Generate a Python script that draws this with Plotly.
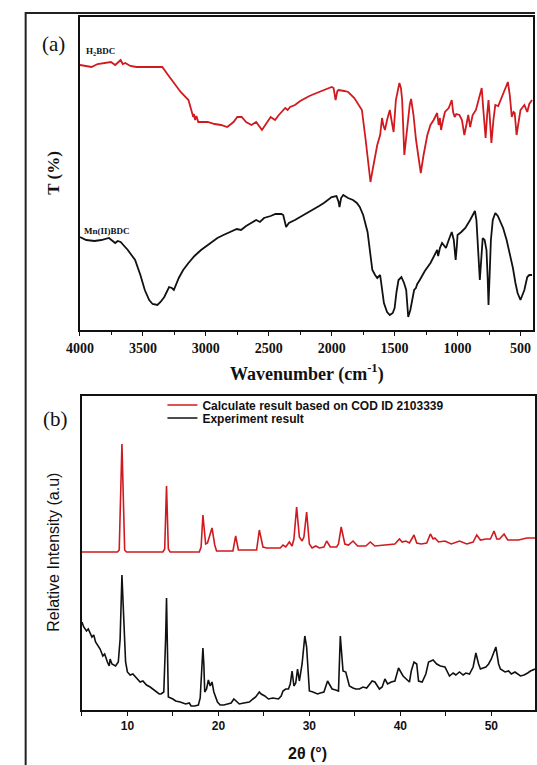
import plotly.graph_objects as go

# page body margin is removed (see post_script) so the figure fills the 537x765 window exactly
OFF = 0
W, H = 537, 765

# ---------------- (a) FTIR data (wavenumber cm-1, transmittance a.u.) ----------------
h2bdc_wn = [4000, 3950, 3908, 3860, 3800, 3754, 3720, 3690, 3677, 3660, 3640, 3600, 3550, 3500, 3400, 3346,
            3300, 3250, 3200, 3138, 3115, 3100, 3095, 3085, 3075, 3060, 2985, 2930, 2880, 2830, 2780, 2750,
            2715, 2680, 2638, 2600, 2554, 2520, 2485, 2450, 2420, 2369, 2350, 2330, 2292, 2250, 2177, 2120,
            2062, 2030, 2000, 1985, 1969, 1955, 1946, 1900, 1869, 1820, 1777, 1760, 1730, 1710, 1692, 1675,
            1650, 1638, 1615, 1600, 1590, 1577, 1560, 1538, 1525, 1508, 1490, 1477, 1462, 1450, 1440, 1423,
            1410, 1395, 1380, 1369, 1350, 1330, 1310, 1292, 1270, 1240, 1215, 1190, 1162, 1150, 1140, 1131,
            1115, 1100, 1070, 1046, 1035, 1023, 1010, 985, 965, 946, 930, 915, 900, 880, 854, 830, 808, 795,
            777, 765, 754, 745, 731, 715, 700, 677, 650, 620, 600, 585, 569, 555, 546, 531, 515, 500, 469,
            446, 430, 408]
h2bdc_t = [265, 264, 263, 266, 267, 268, 265, 269, 270, 266, 267, 264, 263, 263, 263, 263,
           255, 247, 238, 230, 220, 213, 216, 210, 214, 208, 208, 206, 205, 203, 208, 213,
           213, 208, 205, 208, 200, 206, 213, 210, 215, 222, 220, 223, 225, 229, 234, 237,
           240, 241, 243, 242, 230, 239, 240, 239, 238, 232, 223, 220, 190, 165, 148, 160,
           178, 185, 195, 212, 205, 200, 210, 220, 210, 198, 230, 238, 247, 242, 230, 175,
           190, 210, 225, 231, 215, 190, 170, 157, 175, 195, 205, 210, 217, 205, 212, 200,
           210, 218, 222, 230, 218, 213, 216, 215, 210, 195, 205, 215, 203, 215, 220, 232, 242, 220,
           192, 215, 230, 215, 187, 210, 225, 224, 233, 242, 248, 235, 213, 218, 217, 195, 210, 220, 225,
           218, 226, 230]

mnbdc_wn = [4000, 3950, 3885, 3830, 3770, 3740, 3720, 3700, 3677, 3620, 3562, 3520, 3485, 3450, 3423, 3385,
            3360, 3330, 3292, 3270, 3254, 3215, 3180, 3138, 3090, 3038, 2980, 2908, 2860, 2800, 2754, 2720,
            2680, 2640, 2600, 2570, 2538, 2485, 2446, 2400, 2385, 2362, 2340, 2292, 2250, 2215, 2150, 2100,
            2062, 2000, 1962, 1945, 1938, 1925, 1908, 1870, 1831, 1800, 1777, 1750, 1715, 1690, 1677, 1655,
            1638, 1615, 1600, 1585, 1560, 1538, 1515, 1500, 1485, 1469, 1446, 1425, 1408, 1400, 1392, 1375,
            1360, 1345, 1331, 1320, 1300, 1260, 1215, 1185, 1162, 1154, 1140, 1123, 1105, 1092, 1070, 1046,
            1030, 1015, 1005, 1000, 970, 938, 900, 869, 862, 850, 835, 823, 812, 800, 785, 770, 760, 754,
            745, 735, 720, 700, 680, 660, 638, 610, 585, 560, 540, 523, 500, 485, 469, 455, 446, 430, 408]
mnbdc_t = [93, 90, 89, 90, 92, 89, 87, 89, 88, 80, 70, 55, 40, 30, 26, 25,
           28, 33, 43, 42, 40, 52, 60, 67, 74, 80, 85, 92, 95, 98, 101, 100,
           104, 107, 110, 108, 112, 114, 116, 116, 115, 103, 107, 110, 113, 115, 120, 124,
           127, 133, 134, 128, 123, 132, 135, 132, 130, 127, 123, 115, 98, 75, 60, 55,
           52, 55, 40, 27, 18, 15, 17, 22, 38, 50, 53, 47, 40, 20, 13, 20,
           32, 40, 42, 46, 50, 59, 67, 74, 80, 74, 82, 87, 84, 82, 90, 98,
           90, 70, 85, 95, 98, 102, 110, 117, 119, 110, 80, 50, 70, 92, 90, 80, 50, 25,
           55, 90, 110, 117, 114, 108, 102, 90, 77, 62, 47, 37, 30, 35, 40, 48, 53, 55, 55]

# ---------------- (b) XRD data (2theta deg, intensity a.u.) ----------------
calc_tt = [5.0, 8.9, 9.1, 9.4, 9.7, 9.9, 13.9, 14.1, 14.3, 14.5, 14.7, 17.9, 18.1, 18.3, 18.6, 18.8,
           19.0, 19.3, 19.6, 19.8, 21.6, 21.9, 22.2, 24.2, 24.5, 24.9, 25.3, 26.8, 27.1, 27.4, 27.8, 28.1,
           28.3, 28.6, 28.9, 29.2, 29.4, 29.7, 30.0, 30.3, 30.7, 31.1, 31.6, 31.9, 32.3, 33.0, 33.2, 33.5,
           33.9, 34.3, 34.8, 35.3, 36.2, 36.7, 37.2, 38.8, 39.4, 39.9, 40.2, 40.6, 41.0, 41.5, 41.8, 42.3,
           42.9, 43.3, 43.6, 43.8, 44.2, 44.9, 45.6, 46.5, 47.3, 48.0, 48.4, 48.8, 49.4, 49.9, 50.3, 50.6,
           50.9, 51.4, 51.8, 52.1, 53.0, 53.9, 54.8]
calc_int = [158, 158, 160, 266, 160, 158, 158, 161, 224, 161, 158, 158, 163, 195, 166, 167,
            173, 182, 165, 159, 159, 174, 160, 160, 180, 163, 162, 162, 165, 163, 168, 164,
            171, 203, 173, 169, 173, 198, 166, 162, 164, 162, 163, 169, 163, 163, 166, 183,
            166, 165, 169, 164, 164, 168, 164, 165, 166, 171, 168, 169, 167, 175, 167, 166,
            167, 176, 171, 172, 168, 169, 166, 169, 166, 168, 175, 170, 171, 171, 179, 171,
            171, 176, 170, 170, 170, 172, 172]

exp_tt = [5.0, 5.2, 5.5, 5.7, 6.1, 6.3, 6.5, 6.8, 7.0, 7.3, 7.5, 7.8, 8.0, 8.1, 8.3, 8.7, 9.0, 9.2, 9.4,
          9.6, 9.8, 10.0, 10.3, 10.6, 11.1, 11.4, 11.7, 12.1, 12.5, 12.8, 13.2, 13.5, 13.7, 14.0, 14.2,
          14.3, 14.4, 14.5, 15.0, 15.3, 15.8, 16.4, 16.8, 17.0, 17.4, 17.8, 18.0, 18.2, 18.3, 18.4, 18.5,
          18.7, 18.9, 19.1, 19.3, 19.5, 19.9, 20.2, 20.6, 21.0, 21.4, 21.7, 22.0, 22.3, 22.8, 23.4, 23.8,
          24.1, 24.5, 24.7, 25.1, 25.5, 26.0, 26.6, 26.9, 27.1, 27.4, 27.7, 27.9, 28.1, 28.3, 28.5, 28.7,
          28.9, 29.2, 29.5, 29.7, 29.9, 30.0, 30.4, 30.9, 31.2, 31.6, 32.0, 32.2, 32.5, 32.9, 33.2, 33.4,
          33.7, 34.0, 34.4, 34.8, 35.1, 35.5, 35.9, 36.3, 36.9, 37.2, 37.7, 38.0, 38.3, 38.6, 39.0, 39.4,
          39.8, 40.3, 40.6, 41.0, 41.2, 41.5, 41.8, 42.0, 42.4, 42.8, 43.1, 43.6, 44.0, 44.4, 44.9, 45.1,
          45.4, 45.8, 46.1, 46.5, 46.9, 47.2, 47.6, 48.0, 48.3, 48.6, 48.8, 49.4, 49.7, 50.0, 50.5, 50.8,
          51.0, 51.5, 51.9, 52.2, 52.6, 53.2, 53.6, 54.0, 54.3, 54.8]
exp_int = [88, 83, 79, 81, 73, 75, 68, 64, 61, 54, 56, 48, 44, 51, 46, 44, 48, 71, 135,
           91, 48, 38, 35, 36, 31, 28, 29, 25, 23, 21, 18, 16, 16, 18, 71,
           112, 61, 13, 11, 9, 8, 6, 7, 4, 4, 5, 12, 41, 62, 46, 18,
           21, 30, 24, 28, 18, 8, 5, 5, 6, 7, 11, 8, 6, 7, 8, 11,
           13, 18, 16, 14, 11, 12, 11, 14, 19, 21, 21, 26, 39, 24, 27, 41,
           29, 46, 74, 63, 31, 19, 18, 16, 17, 18, 29, 26, 21, 20, 19, 74,
           39, 38, 24, 22, 21, 21, 23, 22, 29, 28, 21, 23, 31, 26, 28, 29,
           42, 34, 31, 28, 39, 48, 46, 29, 28, 36, 48, 50, 46, 44, 43, 39,
           34, 37, 35, 38, 35, 37, 36, 43, 57, 46, 41, 43, 46, 51, 63, 46,
           41, 38, 39, 36, 38, 34, 35, 37, 39, 41]

wn_ticks = [4000, 3500, 3000, 2500, 2000, 1500, 1000, 500]
tt_ticks = [10, 20, 30, 40, 50]

RED = "#d01a1f"
BLACK = "#111111"
SERIF = "Liberation Serif, Times New Roman, serif"
SANS = "Liberation Sans, Arial, sans-serif"


def px(xp):
    """page pixel x -> paper fraction"""
    return (xp - OFF) / W


def py(yp):
    """page pixel y -> paper fraction"""
    return 1 - (yp - OFF) / H


fig = go.Figure()
fig.add_trace(go.Scatter(x=h2bdc_wn, y=h2bdc_t, mode="lines", line=dict(color=RED, width=1.8),
                         xaxis="x", yaxis="y", showlegend=False))
fig.add_trace(go.Scatter(x=mnbdc_wn, y=mnbdc_t, mode="lines", line=dict(color=BLACK, width=1.8),
                         xaxis="x", yaxis="y", showlegend=False))
fig.add_trace(go.Scatter(x=calc_tt, y=calc_int, mode="lines", line=dict(color=RED, width=1.6),
                         xaxis="x2", yaxis="y2", legend="legend",
                         name="<b>Calculate result based on COD ID 2103339</b>"))
fig.add_trace(go.Scatter(x=exp_tt, y=exp_int, mode="lines", line=dict(color=BLACK, width=1.6),
                         xaxis="x2", yaxis="y2", legend="legend2",
                         name="<b>Experiment result</b>"))

axis_common = dict(showgrid=False, zeroline=False, showline=True, linecolor="#111", linewidth=1.5,
                   mirror=True)
leg_common = dict(xanchor="left", yanchor="middle", font=dict(family=SANS, size=12, color="#111"),
                  bgcolor="rgba(0,0,0,0)", borderwidth=0, itemwidth=30)

fig.update_layout(
    width=W, height=H, margin=dict(l=0, r=0, t=0, b=0),
    paper_bgcolor="white", plot_bgcolor="white",
    xaxis=dict(domain=[px(68), px(535)], range=[4000, 400], tickvals=wn_ticks,
               ticks="outside", ticklen=4, tickcolor="#111",
               minor=dict(dtick=250, ticks="outside", ticklen=3, tickcolor="#111"),
               tickfont=dict(family=SERIF, size=14, color="#111", weight="bold"),
               anchor="y", **axis_common),
    yaxis=dict(domain=[py(330), py(17)], range=[0, 313], showticklabels=False, ticks="",
               anchor="x", **axis_common),
    xaxis2=dict(domain=[px(70), 1.0], range=[5, 54.8], tickvals=tt_ticks,
                ticks="outside", ticklen=4, tickcolor="#111",
                minor=dict(dtick=5, tick0=0, ticks="outside", ticklen=4, tickcolor="#111"),
                tickfont=dict(family=SANS, size=12, color="#111", weight="bold"),
                anchor="y2", **axis_common),
    yaxis2=dict(domain=[py(710), py(396)], range=[0, 314], showticklabels=False, ticks="",
                anchor="x2", **axis_common),
    legend=dict(x=px(153), y=py(405), **leg_common),
    legend2=dict(x=px(153), y=py(418), **leg_common),
    showlegend=True,
)

annotations = [
    dict(text="(a)", x=px(41), y=py(44), font=dict(family=SERIF, size=21, color="#111")),
    dict(text="<b>T (%)</b>", x=px(41), y=py(173), textangle=-90, font=dict(family=SERIF, size=17, color="#111")),
    dict(text="<b>Wavenumber (cm<sup>-1</sup>)</b>", x=px(302), y=py(373), font=dict(family=SERIF, size=18, color="#111")),
    dict(text="<b>H<sub>2</sub>BDC</b>", x=px(72), y=py(52), xanchor="left", font=dict(family=SERIF, size=9, color="#111")),
    dict(text="<b>Mn(II)BDC</b>", x=px(70), y=py(231), xanchor="left", font=dict(family=SERIF, size=9, color="#111")),
    dict(text="(b)", x=px(43), y=py(419), font=dict(family=SERIF, size=21, color="#111")),
    dict(text="Relative Intensity (a.u)", x=px(40), y=py(552), textangle=-90, font=dict(family=SANS, size=16, color="#111")),
    dict(text="<b>2θ (°)</b>", x=px(303), y=py(753), font=dict(family=SANS, size=16, color="#111")),
]
for a in annotations:
    a.update(xref="paper", yref="paper", showarrow=False)
    if "xanchor" not in a:
        a["xanchor"] = "center"
    a["yanchor"] = "middle"
fig.update_layout(annotations=annotations)

# outer frame of the composite figure
fig.add_shape(type="path", xref="paper", yref="paper",
              path=f"M {px(12)},0 L {px(12)},{py(13)} L 1,{py(13)}",
              line=dict(color="#222", width=2))

fig.write_html("out.html",
               config={"displayModeBar": False},
               post_script="document.body.style.margin='0';document.body.style.overflow='hidden';")
